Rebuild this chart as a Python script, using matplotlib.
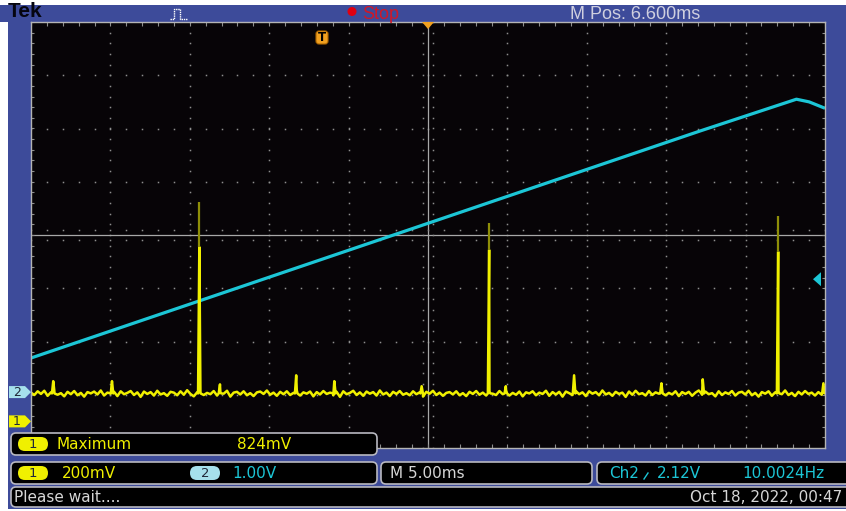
import numpy as np
import matplotlib.pyplot as plt
from matplotlib.patches import Rectangle, FancyBboxPatch, Polygon, Circle

W, H = 846, 511

# scope settings
time_span_ms = 50.0          # 10 div x 5.00 ms
ch1_volts_per_div = 0.2
ch2_volts_per_div = 1.0
ch1_offset_div = -3.5
ch2_offset_div = -2.95
trig_level_v = 2.12

# CH1 : baseline with noise (mV around the baseline)
ch1_baseline_v = 0.105
ch1_noise_mv = [3, -6, 8, -2, 10, -9, 4, 12, -5, 1, -11, 6, -3, 9, -7, 2, -12, 5, 0, 7,
                -4, 11, -8, 3, -1, 6, -10, 8, -3, 2, 9, -6, 4, -13, 7, -2, 5, -8, 10, -4,
                1, -9, 6, 3, -7, 8, -5, 12, -2, -11, 4, 7, -6, 2, -3, 9, -8, 5, -1, 10,
                -12, 3, 6, -4, 8, -7, 1, -10, 4, 7, -2, 11, -5, 3, -9, 6, -3, 8, -6, 2,
                12, -8, 4, -1, 7, -11, 5, -4, 9, -2, 3, -7, 6, -13, 8, -3, 2, 10, -6, 4,
                -9, 7, -1, 5, -8, 11, -4, 3, -10, 6, -2, 9, -5, 1, -7, 8, -3, 4, -12, 6,
                -1, 10, -6, 3, -9, 2, 5, -4, 8, -7, 1, -10, 6, -2, 9, -5, 3, -8, 7, -1,
                -6, 9, -3, 12, -8, 2, -5, 7, -11, 4, 0, 8, -7, 3, -2, 10, -9, 5, -4, 6,
                -12, 7, 1, -6, 9, -3, 4, -10, 8, -1, 5, -7, 11, -4, 2, -9, 6, -2, 3, -13,
                7, -5, 10, -3, 1, -8, 9, -6, 4, -1, 12, -7, 2, -4, 8, -10, 5, -2, 6, -9,
                3, 11, -5, 7, -3, 1, -11, 8, -6, 4, -2, 9, -8, 3, 6, -4, 10, -7, 2, -12,
                5, -1, 8, -9, 4, 7, -3, 11, -6, 2, -10, 6, -4, 9, -2, 3, -8, 5, -5, 7]
# small glitches on CH1
glitch_t = [1.4, 5.1, 11.9, 16.7, 19.1, 24.6, 29.9, 34.2, 39.7, 42.3, 49.9]
glitch_v = [0.151, 0.151, 0.139, 0.173, 0.151, 0.132, 0.132, 0.173, 0.143, 0.158, 0.143]
# large pulses on CH1 (persistence peak and bright top)
pulse_t = [10.6, 28.85, 47.05]
pulse_peak_v = [0.824, 0.746, 0.772]
pulse_bright_v = [0.655, 0.644, 0.637]

# CH2 : ramp vertices
ramp_t = [0.0, 42.1, 48.2, 49.0, 50.0]
ramp_v = [0.64, 4.90, 5.50, 5.45, 5.33]

BLUE = '#3D4B9A'
GRID = '#8E8E8E'
YEL = '#F0F000'
CYAN = '#1CC6D6'
TXT = '#D6D6D6'

fig = plt.figure(figsize=(W / 100, H / 100), dpi=100)
fig.patch.set_facecolor('white')

# background: bezel
bg = fig.add_axes([0, 0, 1, 1], zorder=0)
bg.set_xlim(0, W); bg.set_ylim(H, 0); bg.axis('off')
bg.add_patch(Rectangle((0, 5), W, 17, color=BLUE, lw=0))
bg.add_patch(Rectangle((8, 5), W - 8, 504, color=BLUE, lw=0))

# graticule
ax = fig.add_axes([31 / W, (H - 448) / H, 794 / W, 426 / H], zorder=1)
ax.set_facecolor('#070407')
ax.set_xlim(0, time_span_ms)
ax.set_ylim(-4, 4)
ax.set_xticks([]); ax.set_yticks([])
for s in ax.spines.values():
    s.set_color('#B4B4B4'); s.set_linewidth(1.0)

xs_minor = np.arange(0, time_span_ms + 0.01, 1.0)
ys_minor = np.arange(-4, 4.01, 0.2)
for xg in np.arange(5, 50, 5):
    if xg == 25:
        continue
    ax.plot(np.full_like(ys_minor, xg), ys_minor, ls='none', marker='s', ms=1.1, mew=0, color=GRID)
for yg in range(-3, 4):
    if yg == 0:
        continue
    ax.plot(xs_minor, np.full_like(xs_minor, yg), ls='none', marker='s', ms=1.1, mew=0, color=GRID)
# center cross with ticks
ax.axhline(0, color='#A8A8A8', lw=0.9)
ax.axvline(25, color='#A8A8A8', lw=0.9)
for dy in (-0.1, 0.1):
    ax.plot(xs_minor, np.full_like(xs_minor, dy), ls='none', marker='s', ms=1.1, mew=0, color=GRID)
for dx in (-0.32, 0.32):
    ax.plot(np.full_like(ys_minor, 25 + dx), ys_minor, ls='none', marker='s', ms=1.1, mew=0, color=GRID)
# edge ticks
ax.vlines(xs_minor, 4 - 0.07, 4, color=GRID, lw=0.8)
ax.vlines(xs_minor, -4, -4 + 0.07, color=GRID, lw=0.8)
ax.hlines(ys_minor, 0, 0.2, color=GRID, lw=0.8)
ax.hlines(ys_minor, time_span_ms - 0.2, time_span_ms, color=GRID, lw=0.8)

# CH2 ramp
ramp_div = np.array(ramp_v) / ch2_volts_per_div + ch2_offset_div
ax.plot(ramp_t, ramp_div, color=CYAN, lw=2.3, solid_capstyle='butt')

# CH1 trace
t1 = list(np.linspace(0, time_span_ms, len(ch1_noise_mv)))
v1 = list(ch1_baseline_v + np.array(ch1_noise_mv) / 1000.0)
for t, v in zip(glitch_t + pulse_t, glitch_v + pulse_bright_v):
    t1 += [t - 0.08, t, t + 0.08]
    v1 += [ch1_baseline_v, v, ch1_baseline_v]
order = np.argsort(t1)
t1 = np.array(t1)[order]
v1 = np.array(v1)[order]
ax.plot(t1, v1 / ch1_volts_per_div + ch1_offset_div, color=YEL, lw=1.8)
ax.vlines(pulse_t, np.array(pulse_bright_v) / ch1_volts_per_div + ch1_offset_div,
          np.array(pulse_peak_v) / ch1_volts_per_div + ch1_offset_div, color='#8E8E08', lw=1.6)

# overlay: status bar, markers, readouts
ov = fig.add_axes([0, 0, 1, 1], zorder=3)
ov.set_xlim(0, W); ov.set_ylim(H, 0); ov.axis('off')
ov.patch.set_alpha(0)

ov.text(8, 11.5, 'Tek', fontsize=15, fontweight='bold', family='Liberation Sans', color='#050510', va='center', ha='left')
ov.plot([170, 174, 174, 180, 180, 187], [19, 19, 9, 9, 19, 19], color='white', lw=1, ls=(0, (1, 0.6)))
ov.add_patch(Circle((352, 11.5), 4.5, color='#E00010', lw=0))
ov.text(362, 14.5, 'Stop', fontsize=13, family='Liberation Sans', color='#D01828', va='center')
ov.text(570, 14.5, 'M Pos: 6.600ms', fontsize=13, family='Liberation Sans', color='#CFCFDF', va='center')

# trigger position / level markers
ov.add_patch(Polygon([[422, 22], [434, 22], [428, 29]], closed=True, color='#F0A020', lw=0))
ov.add_patch(FancyBboxPatch((316, 31), 12, 13, boxstyle='round,pad=0,rounding_size=3', fc='#F0A020', ec='#B06800', lw=0.8))
ov.text(322, 37.5, 'T', fontsize=8.5, fontweight='bold', color='black', ha='center', va='center')
ytrig = 235 - (trig_level_v / ch2_volts_per_div + ch2_offset_div) * 53.25
ov.add_patch(Polygon([[813, ytrig], [821, ytrig - 7], [821, ytrig + 7]], closed=True, color=CYAN, lw=0))

# channel ground markers
for off, fc, lab in [(ch2_offset_div, '#A6E0EC', '2'), (ch1_offset_div, '#F0F000', '1')]:
    yc = 235 - off * 53.25
    ov.add_patch(Polygon([[9, yc - 6], [25, yc - 6], [31, yc], [25, yc + 6], [9, yc + 6]], closed=True, fc=fc, lw=0))
    ov.text(17, yc + 0.5, lab, fontsize=9, color='#202838', ha='center', va='center')


def panel(x, y, w, h):
    ov.add_patch(FancyBboxPatch((x, y), w, h, boxstyle='round,pad=0,rounding_size=5',
                                fc='black', ec='#B8B8C0', lw=1.2))


def pill(xc, yc, fc, lab):
    ov.add_patch(FancyBboxPatch((xc - 15, yc - 7), 30, 14, boxstyle='round,pad=0,rounding_size=7',
                                fc=fc, ec='none'))
    ov.text(xc, yc + 0.5, lab, fontsize=9.5, color='#202838', ha='center', va='center')


panel(11, 433, 366, 22)
pill(33, 444, '#F0F000', '1')
ov.text(57, 444.5, 'Maximum', fontsize=11, color=YEL, va='center')
ov.text(237, 444.5, '824mV', fontsize=11, color=YEL, va='center')

panel(11, 462, 366, 22)
pill(33, 473, '#F0F000', '1')
ov.text(62, 473.5, '200mV', fontsize=11, color=YEL, va='center')
pill(205, 473, '#A6E0EC', '2')
ov.text(232, 473.5, '1.00V', fontsize=11, color=CYAN, va='center')

panel(381, 462, 211, 22)
ov.text(390, 473.5, 'M 5.00ms', fontsize=11, color=TXT, va='center')

panel(597, 462, 260, 22)
ov.text(609, 474, 'Ch2', fontsize=11, color=CYAN, va='center')
ov.plot([644, 648], [479, 473], color=CYAN, lw=1)
ov.text(657, 474, '2.12V', fontsize=11, color=CYAN, va='center')
ov.text(742, 474, '10.0024Hz', fontsize=11, color=CYAN, va='center')

panel(11, 487, 850, 20)
ov.text(14, 497.5, 'Please wait....', fontsize=11, color=TXT, va='center')
ov.text(690, 497.5, 'Oct 18, 2022, 00:47', fontsize=11, color=TXT, va='center')

fig.savefig('out.png', dpi=100, facecolor=fig.get_facecolor())
